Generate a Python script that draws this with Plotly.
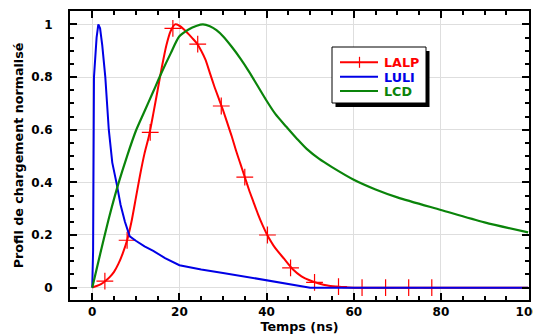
import plotly.graph_objects as go

# ---------------- data ----------------
lalp_x = [0, 1, 2, 3, 4, 5, 6, 7, 8, 9, 10, 11, 12, 13, 14, 15, 16, 17, 18, 19,
          20, 21, 22, 23, 24, 25, 26, 27, 28, 29, 30, 31, 32, 33, 34, 35, 36, 37,
          38, 39, 40, 42, 44, 46, 48, 50, 52, 54, 56, 58, 60, 100]
lalp_y = [0, 0.006, 0.013, 0.025, 0.04, 0.06, 0.09, 0.13, 0.18, 0.25, 0.34, 0.43,
          0.51, 0.575, 0.66, 0.75, 0.84, 0.92, 0.975, 1.0, 0.995, 0.982, 0.965,
          0.947, 0.928, 0.9, 0.865, 0.815, 0.765, 0.72, 0.675, 0.625, 0.575, 0.52,
          0.47, 0.42, 0.37, 0.325, 0.28, 0.24, 0.205, 0.15, 0.11, 0.07, 0.043,
          0.027, 0.016, 0.008, 0.004, 0.001, 0, 0]
lalp_mark_x = [2.9, 8.0, 13.3, 18.5, 24.2, 29.6, 35.0, 40.2, 45.5, 51.0, 56.5,
               61.9, 67.3, 72.6, 77.9]
lalp_mark_y = [0.025, 0.18, 0.59, 0.985, 0.925, 0.69, 0.42, 0.2, 0.075, 0.02,
               0.004, 0, 0, 0, 0]

luli_x = [0, 0.2, 0.4, 0.7, 1.0, 1.4, 1.8, 2.3, 3.0, 3.8, 4.6, 5.6, 6.5, 7.5,
          8.6, 10, 12, 14, 16.7, 20, 25, 30, 35, 40, 45, 48.5, 50, 100]
luli_y = [0, 0.14, 0.8, 0.88, 0.95, 1.0, 0.985, 0.92, 0.8, 0.6, 0.475, 0.395,
          0.315, 0.25, 0.195, 0.178, 0.157, 0.14, 0.112, 0.085, 0.069, 0.056,
          0.042, 0.027, 0.013, 0.002, 0, 0]

lcd_x = [0, 2, 4, 6, 8, 10, 12, 14, 16, 18, 20, 22, 24, 25.4, 27, 28.5, 30, 32,
         34, 36, 38, 40, 42, 44.6, 47, 49.2, 52, 55, 60, 65, 70, 80, 90, 100]
lcd_y = [0, 0.14, 0.275, 0.395, 0.5, 0.595, 0.67, 0.745, 0.82, 0.89, 0.955, 0.98,
         0.995, 1.0, 0.993, 0.978, 0.955, 0.915, 0.87, 0.82, 0.765, 0.71, 0.66,
         0.61, 0.565, 0.527, 0.49, 0.458, 0.41, 0.373, 0.343, 0.295, 0.248, 0.21]

series_names = ["LALP", "LULI", "LCD"]
x_ticks = [0, 20, 40, 60, 80, 100]
y_ticks = [0, 0.2, 0.4, 0.6, 0.8, 1]
y_ticktext = ["0", "0.2", "0.4", "0.6", "0.8", "1"]

RED = "#ff0000"
BLUE = "#0000e6"
GREEN = "#0a840a"
colors = [RED, BLUE, GREEN]
FONT = "DejaVu Sans"

fig = go.Figure()
fig.add_trace(go.Scatter(x=lalp_x, y=lalp_y, mode="lines",
                         line=dict(color=RED, width=2, shape="spline", smoothing=0.6),
                         name=series_names[0], showlegend=False))
fig.add_trace(go.Scatter(x=lalp_mark_x, y=lalp_mark_y, mode="markers",
                         marker=dict(symbol="cross-thin", size=12, line=dict(color=RED, width=1.2)),
                         name=series_names[0], showlegend=False))
fig.add_trace(go.Scatter(x=luli_x, y=luli_y, mode="lines", line=dict(color=BLUE, width=2),
                         name=series_names[1], showlegend=False))
fig.add_trace(go.Scatter(x=lcd_x, y=lcd_y, mode="lines",
                         line=dict(color=GREEN, width=2.2, shape="spline", smoothing=0.8),
                         name=series_names[2], showlegend=False))

# the page body has an 8 px default margin: figure sits at page (8, 8)
OFF = 8
W, H = 541, 336 - OFF
L, R, T, B = 70 - OFF, 12 + OFF, 11 - OFF, 36
pw, ph = W - L - R, H - T - B


def px_x(p):
    return (p - OFF - L) / pw


def px_y(p):
    return (H - B - (p - OFF)) / ph


axis_common = dict(
    showline=True, linecolor="black", linewidth=2, mirror="allticks",
    ticks="inside", ticklen=7, tickwidth=2, tickcolor="black",
    showgrid=True, gridcolor="#dedede", gridwidth=1, zeroline=False,
    automargin=False,
    tickfont=dict(family=FONT, size=12, color="black", weight="bold"),
)

# ---- legend box drawn by hand (boxed, with drop shadow) ----
box_l, box_r, box_t, box_b = 332, 426, 47, 103
rows_y = [62.3, 76.7, 91.0]
line_l, line_r = 340, 378
shapes = [
    dict(type="rect", xref="paper", yref="paper",
         x0=px_x(box_l + 3.5), x1=px_x(box_r + 3.5), y0=px_y(box_b + 4), y1=px_y(box_t + 4),
         fillcolor="black", line=dict(width=0), layer="above"),
    dict(type="rect", xref="paper", yref="paper",
         x0=px_x(box_l), x1=px_x(box_r), y0=px_y(box_b), y1=px_y(box_t),
         fillcolor="white", line=dict(color="black", width=1), layer="above"),
]
annotations = []
for name, col, ry in zip(series_names, colors, rows_y):
    shapes.append(dict(type="line", xref="paper", yref="paper",
                       x0=px_x(line_l), x1=px_x(line_r), y0=px_y(ry), y1=px_y(ry),
                       line=dict(color=col, width=2), layer="above"))
    annotations.append(dict(xref="paper", yref="paper", x=px_x(382), y=px_y(ry + 0.5),
                            xanchor="left", yanchor="middle", showarrow=False, text=name,
                            font=dict(family=FONT, size=12.7, color=col, weight="bold")))
# cross on the LALP legend sample
shapes.append(dict(type="line", xref="paper", yref="paper",
                   x0=px_x(359.5), x1=px_x(359.5), y0=px_y(rows_y[0] - 5.5), y1=px_y(rows_y[0] + 5.5),
                   line=dict(color=RED, width=1.2), layer="above"))

fig.update_layout(
    width=W, height=H,
    margin=dict(l=L, r=R, t=T, b=B),
    paper_bgcolor="white", plot_bgcolor="white",
    showlegend=False,
    xaxis=dict(range=[-5.1, 100.2], tickvals=x_ticks,
               minor=dict(dtick=5, tick0=0, ticks="inside", ticklen=4, tickwidth=1.5,
                          tickcolor="black", showgrid=False),
               title=dict(text="Temps (ns)", standoff=1,
                          font=dict(family=FONT, size=12.7, color="black", weight="bold")),
               **axis_common),
    yaxis=dict(range=[-0.047, 1.051], tickvals=y_ticks, ticktext=y_ticktext,
               ticklabelstandoff=13,
               minor=dict(dtick=0.05, tick0=0, ticks="inside", ticklen=4, tickwidth=1.5,
                          tickcolor="black", showgrid=False),
               title=dict(text="Profil de chargement normalisé", standoff=5,
                          font=dict(family=FONT, size=12.7, color="black", weight="bold")),
               **axis_common),
    shapes=shapes,
    annotations=annotations,
)

fig.write_html("out.html")
